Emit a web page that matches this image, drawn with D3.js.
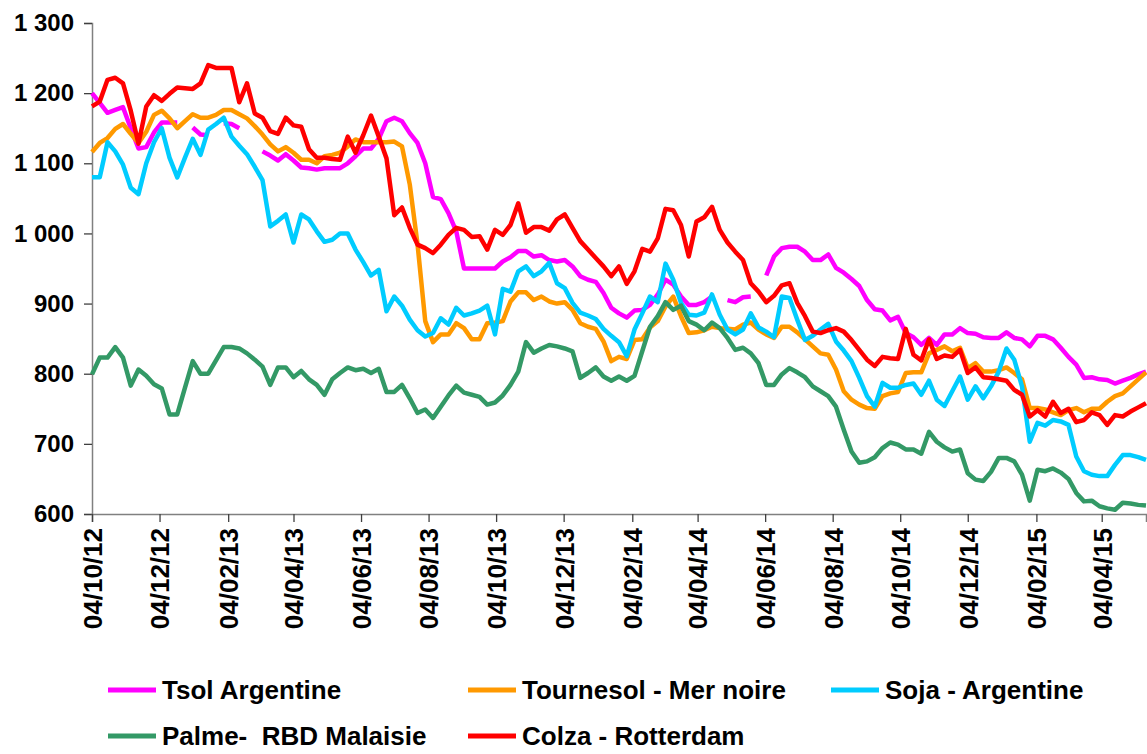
<!DOCTYPE html>
<html>
<head>
<meta charset="utf-8">
<script src="https://cdn.jsdelivr.net/npm/d3@7"></script>
<style>
  body { margin: 0; background: #fff; }
  svg { display: block; }
  text { font-family: "Liberation Sans", Arial, sans-serif; font-weight: bold; fill: #000; }
</style>
</head>
<body>
<div id="wrapper"></div>
<script>
// weekly prices, first week 04/10/12
const firstWeek = "04/10/12"
const xTickLabels = ["04/10/12", "04/12/12", "04/02/13", "04/04/13", "04/06/13", "04/08/13",
  "04/10/13", "04/12/13", "04/02/14", "04/04/14", "04/06/14", "04/08/14", "04/10/14",
  "04/12/14", "04/02/15", "04/04/15"]
const yTicks = [600, 700, 800, 900, 1000, 1100, 1200, 1300]

const seriesNames = ["Tsol Argentine", "Tournesol - Mer noire", "Soja - Argentine",
  "Palme-  RBD Malaisie", "Colza - Rotterdam"]
const seriesColors = ["#ff00ff", "#ff9900", "#00ccff", "#339966", "#ff0000"]

const tsolArgentine = [1200, 1186, 1172, 1176, 1180, 1150, 1121, 1123, 1144, 1158, 1158, 1158, null, 1151, 1141, 1140, null, 1157, 1156, 1150,
  null, null, 1117, 1111, 1104, 1113, 1104, 1094, 1093, 1091, 1093, 1093, 1093, 1100, 1110, 1121, 1121, 1135, 1160, 1165,
  1160, 1143, 1129, 1100, 1052, 1049, 1029, 1003, 950, 950, 950, 950, 950, 960, 966, 975, 975, 967, 969, 962,
  960, 962, 953, 939, 934, 931, 915, 894, 886, 880, 890, 891, 898, 913, 934, 927, 910, 898, 898, 902,
  910, null, 905, 902, 909, 910, null, 940, 967, 979, 981, 981, 974, 962, 962, 970, 951, 944, 935, 925,
  905, 892, 890, 876, 881, 858, 852, 841, 851, 841, 856, 856, 865, 858, 857, 852, 851, 851, 859, 851,
  849, 839, 854, 854, 849, 837, 824, 813, 794, 795, 792, 791, 786, 790, 794, 799, 803]
const tournesolMerNoire = [1116, 1129, 1136, 1149, 1156, 1142, 1129, 1145, 1169, 1175, 1164, 1150, 1160, 1170, 1165, 1165, 1169, 1176, 1176, 1170,
  1164, 1153, 1141, 1127, 1117, 1123, 1115, 1105, 1105, 1100, 1110, 1112, 1115, 1124, 1134, 1130, 1130, 1130, 1130, 1131,
  1124, 1070, 985, 875, 845, 856, 856, 872, 865, 849, 849, 872, 873, 875, 903, 916, 916, 905, 910, 903,
  900, 902, 891, 872, 867, 864, 846, 818, 824, 821, 848, 849, 866, 875, 896, 910, 882, 858, 859, 862,
  867, 865, 864, 863, 870, 873, 863, 856, 851, 867, 867, 859, 849, 839, 829, 827, 806, 775, 763, 756,
  751, 750, 768, 772, 774, 801, 802, 802, 829, 834, 839, 832, 837, 808, 815, 803, 803, 805, 809, 801,
  792, 751, 751, 749, 745, 741, 748, 751, 745, 750, 750, 760, 768, 772, 782, 792, 802]
const sojaArgentine = [1080, 1080, 1130, 1117, 1098, 1065, 1056, 1100, 1130, 1150, 1108, 1080, 1108, 1135, 1112, 1148, 1156, 1165, 1138, 1125,
  1113, 1095, 1076, 1010, 1018, 1027, 987, 1027, 1020, 1003, 988, 991, 1000, 1000, 977, 959, 940, 948, 889, 910,
  897, 877, 862, 853, 858, 879, 870, 894, 883, 886, 890, 897, 856, 921, 917, 946, 953, 939, 946, 958,
  929, 922, 901, 887, 883, 878, 864, 854, 845, 825, 863, 886, 910, 902, 957, 934, 901, 884, 883, 887,
  913, 884, 863, 856, 863, 886, 866, 860, 852, 910, 908, 877, 848, 854, 863, 871, 846, 833, 818, 794,
  768, 753, 787, 780, 780, 784, 786, 770, 790, 763, 754, 775, 796, 763, 782, 765, 782, 803, 836, 820,
  782, 703, 730, 726, 734, 732, 727, 682, 661, 656, 654, 654, 670, 684, 684, 681, 677]
const palmeRbdMalaisie = [799, 823, 823, 838, 823, 783, 806, 797, 785, 779, 742, 742, 780, 818, 800, 800, 819, 838, 838, 836,
  829, 820, 810, 784, 809, 809, 795, 804, 792, 784, 770, 792, 801, 809, 805, 807, 801, 807, 774, 774,
  784, 765, 744, 749, 737, 753, 769, 783, 773, 770, 767, 756, 759, 769, 784, 803, 845, 830, 836, 841,
  839, 836, 832, 794, 801, 809, 796, 790, 796, 790, 797, 832, 867, 882, 902, 891, 897, 875, 870, 862,
  873, 865, 851, 834, 837, 829, 815, 784, 784, 799, 808, 802, 795, 782, 775, 768, 753, 720, 689, 673,
  675, 681, 694, 702, 699, 692, 692, 686, 717, 703, 695, 689, 692, 658, 649, 647, 660, 680, 680, 675,
  656, 619, 663, 661, 665, 659, 650, 630, 618, 619, 611, 608, 606, 616, 615, 613, 612]
const colzaRotterdam = [1181, 1188, 1219, 1222, 1214, 1175, 1128, 1181, 1197, 1189, 1199, 1208, 1207, 1206, 1214, 1240, 1236, 1236, 1236, 1187,
  1214, 1171, 1165, 1146, 1142, 1165, 1154, 1152, 1120, 1108, 1108, 1106, 1105, 1138, 1115, 1140, 1168, 1138, 1107, 1026,
  1037, 1008, 984, 979, 972, 984, 998, 1008, 1005, 995, 996, 977, 1005, 998, 1012, 1043, 1001, 1009, 1009, 1004,
  1020, 1027, 1008, 989, 977, 965, 953, 939, 953, 928, 946, 978, 974, 993, 1035, 1033, 1012, 967, 1017, 1023,
  1038, 1005, 987, 974, 962, 929, 917, 902, 911, 926, 929, 901, 882, 860, 858, 862, 865, 860, 848, 834,
  820, 811, 824, 822, 821, 864, 827, 819, 849, 821, 826, 824, 834, 801, 809, 795, 794, 792, 790, 777,
  770, 739, 748, 739, 760, 744, 750, 731, 734, 745, 741, 727, 741, 739, 746, 752, 758]

const seriesValues = [tsolArgentine, tournesolMerNoire, sojaArgentine, palmeRbdMalaisie, colzaRotterdam]

function drawChart() {
  const parseDate = d3.timeParse("%d/%m/%y")
  const start = parseDate(firstWeek)
  const weekDate = i => d3.timeDay.offset(start, 7 * i)
  const lastIndex = tsolArgentine.length - 1

  const dimensions = {
    width: 1147,
    height: 754,
    margin: { top: 23, right: 1, bottom: 240, left: 92 },
  }
  dimensions.boundedWidth = dimensions.width - dimensions.margin.left - dimensions.margin.right
  dimensions.boundedHeight = dimensions.height - dimensions.margin.top - dimensions.margin.bottom

  const svg = d3.select("#wrapper").append("svg")
    .attr("width", dimensions.width)
    .attr("height", dimensions.height)

  const bounds = svg.append("g")
    .attr("transform", `translate(${dimensions.margin.left},${dimensions.margin.top})`)

  const xScale = d3.scaleTime()
    .domain([start, weekDate(lastIndex)])
    .range([0, dimensions.boundedWidth])
  const yScale = d3.scaleLinear()
    .domain([600, 1300])
    .range([dimensions.boundedHeight, 0])

  const fmt = d3.formatLocale({ decimal: ",", thousands: " ", grouping: [3], currency: ["", ""] }).format(",")

  // y axis
  const yAxis = bounds.append("g")
    .call(d3.axisLeft(yScale).tickValues(yTicks).tickFormat(fmt).tickSize(8).tickPadding(10))
  yAxis.select(".domain").attr("stroke", "#808080").attr("stroke-width", 1.5)
  yAxis.selectAll(".tick line").attr("stroke", "#404040").attr("stroke-width", 1.3)
  yAxis.selectAll(".tick text")
    .style("font-size", "24px")
    .attr("fill", "#000")

  // x axis
  const xAxis = bounds.append("g")
    .attr("transform", `translate(0,${dimensions.boundedHeight})`)
    .call(d3.axisBottom(xScale)
      .tickValues(xTickLabels.map(parseDate))
      .tickFormat(d3.timeFormat("%d/%m/%y"))
      .tickSize(8))
  xAxis.select(".domain").attr("stroke", "#808080").attr("stroke-width", 1.5)
  xAxis.selectAll(".tick line").attr("stroke", "#404040").attr("stroke-width", 1.3)
  xAxis.selectAll(".tick text")
    .style("font-size", "26px")
    .attr("fill", "#000")
    .attr("text-anchor", "end")
    .attr("transform", "rotate(-90)")
    .attr("x", -14)
    .attr("y", 0)
    .attr("dy", "0.36em")

  // lines
  const line = d3.line()
    .defined(d => d != null)
    .x((d, i) => xScale(weekDate(i)))
    .y(d => yScale(d))

  bounds.selectAll(".series")
    .data(seriesValues)
    .join("path")
    .attr("class", "series")
    .attr("fill", "none")
    .attr("stroke", (d, i) => seriesColors[i])
    .attr("stroke-width", 4.5)
    .attr("stroke-linejoin", "round")
    .attr("d", line)

  // legend
  const legendPos = [[108, 690], [468, 690], [831, 690], [108, 736], [468, 736]]
  const legend = svg.append("g")
  const items = legend.selectAll("g")
    .data(seriesNames)
    .join("g")
    .attr("transform", (d, i) => `translate(${legendPos[i][0]},${legendPos[i][1]})`)
  items.append("line")
    .attr("x1", 0).attr("x2", 48)
    .attr("stroke", (d, i) => seriesColors[i])
    .attr("stroke-width", 5)
  items.append("text")
    .attr("x", 54)
    .attr("dy", "0.36em")
    .style("font-size", "26px")
    .style("white-space", "pre")
    .text(d => d)
}

drawChart()
</script>
</body>
</html>
